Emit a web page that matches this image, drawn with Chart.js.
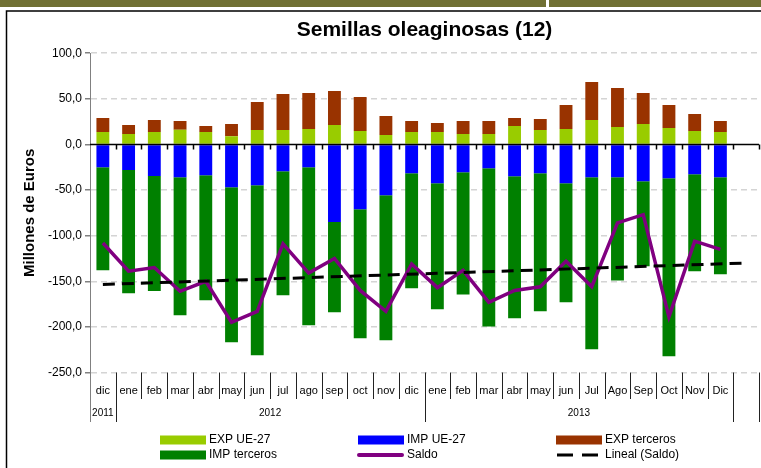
<!DOCTYPE html>
<html>
<head>
<meta charset="utf-8">
<script src="https://cdn.jsdelivr.net/npm/chart.js@4.4.1/dist/chart.umd.min.js"></script>
<style>
  html, body { margin: 0; padding: 0; background: #fff; }
  #wrap { position: relative; width: 761px; height: 468px; }
</style>
</head>
<body>
<div id="wrap"><canvas id="semillas"></canvas></div>
<script>
// meses (la ultima categoria queda vacia, como en la hoja original)
const months = ["dic", "ene", "feb", "mar", "abr", "may", "jun", "jul", "ago", "sep", "oct", "nov",
  "dic", "ene", "feb", "mar", "abr", "may", "jun", "Jul", "Ago", "Sep", "Oct", "Nov", "Dic", ""];
// año y numero de meses que abarca
const years = [["2011", 1], ["2012", 12], ["2013", 12], ["", 1]];

const expUE = [13.5, 11.3, 13.5, 16.0, 13.5, 9.1, 15.7, 15.7, 16.8, 21.2, 14.6, 10.2, 13.5,
  13.5, 11.3, 11.3, 20.1, 15.7, 16.8, 26.7, 19.0, 22.3, 17.9, 14.6, 13.5];
const impUE = [-25.0, -27.9, -34.5, -35.9, -33.7, -46.9, -44.7, -29.3, -25.0, -85.0, -71.1, -55.7, -31.5,
  -42.5, -30.4, -26.0, -34.8, -31.5, -42.5, -35.9, -35.9, -40.3, -37.0, -32.6, -35.9];
const expTerceros = [15.4, 9.9, 13.2, 9.6, 6.6, 13.2, 30.8, 39.6, 39.6, 37.4, 37.4, 20.9, 12.1,
  9.9, 14.3, 14.3, 8.8, 12.1, 26.4, 41.8, 42.9, 34.1, 25.3, 18.7, 12.1];
const impTerceros = [-112.8, -135.1, -126.3, -151.3, -137.1, -170.0, -186.5, -136.0, -173.2, -99.0, -141.4, -159.0, -126.1,
  -138.1, -134.1, -173.7, -155.7, -151.3, -130.5, -188.7, -113.2, -93.1, -195.3, -106.3, -106.3];
const saldo = [-108, -139, -135, -161, -150, -195, -183, -109, -141, -125, -160, -183, -131,
  -157, -138, -173, -160, -156, -128, -156, -86, -77, -189, -106, -115];
// tendencia lineal: valor en la primera y en la ultima categoria
const trendEnds = [-153.5, -130];

const trendData = months.map((_, i) =>
  i === 0 ? trendEnds[0] : i === months.length - 1 ? trendEnds[1] : null
);

Chart.defaults.font.family = "'Liberation Sans', Arial, sans-serif";
Chart.defaults.color = "#000";

const frame = {
  id: "frame",
  beforeDraw(chart) {
    const ctx = chart.ctx;
    ctx.save();
    ctx.fillStyle = "#fff";
    ctx.fillRect(0, 0, chart.width, chart.height);
    ctx.fillStyle = "#707034";
    ctx.fillRect(0, 0, chart.width, 7);
    ctx.fillStyle = "#fff";
    ctx.fillRect(546, 0, 3, 7);
    ctx.strokeStyle = "#000";
    ctx.lineWidth = 1.5;
    ctx.beginPath();
    ctx.moveTo(6.5, chart.height);
    ctx.lineTo(6.5, 11);
    ctx.lineTo(chart.width, 11);
    ctx.stroke();
    ctx.restore();
  },
};

const categoryAxis = {
  id: "categoryAxis",
  afterDatasetsDraw(chart) {
    const { ctx, chartArea, scales: { x, y } } = chart;
    const step = x.getPixelForValue(1) - x.getPixelForValue(0);
    const y0 = Math.round(y.getPixelForValue(0)) + 0.5;
    ctx.save();
    ctx.strokeStyle = "#000";
    ctx.lineWidth = 1.5;
    ctx.beginPath();
    ctx.moveTo(chartArea.left, y0);
    ctx.lineTo(chartArea.right, y0);
    for (let i = 0; i < months.length; i++) {
      const px = Math.round(x.getPixelForValue(i) + step / 2) + 0.5;
      ctx.moveTo(px, y0);
      ctx.lineTo(px, y0 + 5);
    }
    ctx.stroke();
    ctx.restore();
  },
  afterDraw(chart) {
    const { ctx, chartArea, scales: { x } } = chart;
    const step = x.getPixelForValue(1) - x.getPixelForValue(0);
    const top = chartArea.bottom;
    ctx.save();

    // eje vertical prolongado hasta el pie de la tabla
    ctx.strokeStyle = "#808080";
    ctx.lineWidth = 1;
    ctx.beginPath();
    ctx.moveTo(Math.round(chartArea.left) + 0.5, top);
    ctx.lineTo(Math.round(chartArea.left) + 0.5, 422);
    ctx.stroke();

    // separadores de meses y de años
    const yearEnds = [];
    let acc = 0;
    for (const [, n] of years) {
      acc += n;
      yearEnds.push(acc - 1);
    }
    ctx.strokeStyle = "#222";
    ctx.beginPath();
    for (let i = 0; i < months.length; i++) {
      const px = Math.round(x.getPixelForValue(i) + step / 2) + 0.5;
      ctx.moveTo(px, top);
      ctx.lineTo(px, yearEnds.includes(i) ? 422 : 399);
    }
    ctx.stroke();

    // etiquetas de año
    ctx.fillStyle = "#000";
    ctx.font = "10px 'Liberation Sans', Arial, sans-serif";
    ctx.textAlign = "center";
    ctx.textBaseline = "middle";
    let start = 0;
    for (const [label, n] of years) {
      const a = x.getPixelForValue(start) - step / 2;
      const b = x.getPixelForValue(start + n - 1) + step / 2;
      ctx.fillText(label, (a + b) / 2, 413);
      start += n;
    }

    // leyenda en tres columnas
    const cols = [160, 358, 556];
    const rows = [440, 455];
    ctx.font = "12px 'Liberation Sans', Arial, sans-serif";
    ctx.textAlign = "left";
    chart.data.datasets.forEach((ds, i) => {
      const lx = cols[i % 3];
      const ly = rows[Math.floor(i / 3)];
      if (ds.type === "line") {
        ctx.strokeStyle = ds.borderColor;
        ctx.lineWidth = ds.borderDash ? 3 : 4;
        ctx.lineCap = ds.borderDash ? "butt" : "round";
        ctx.setLineDash(ds.borderDash ? [16, 9] : []);
        ctx.beginPath();
        ctx.moveTo(lx + 1, ly);
        ctx.lineTo(lx + 44, ly);
        ctx.stroke();
        ctx.setLineDash([]);
      } else {
        ctx.fillStyle = ds.backgroundColor;
        ctx.fillRect(lx, ly - 4.5, 46, 9);
      }
      ctx.fillStyle = "#000";
      ctx.fillText(ds.label, lx + 49, ly);
    });
    ctx.restore();
  },
};

const bar = (label, data, color) => ({
  type: "bar",
  label,
  data,
  backgroundColor: color,
  stack: "flujos",
  order: 2,
  barPercentage: 0.5,
  categoryPercentage: 1.0,
});

new Chart(document.getElementById("semillas"), {
  data: {
    labels: months,
    datasets: [
      bar("EXP UE-27", expUE, "#99cc00"),
      bar("IMP UE-27", impUE, "#0000ff"),
      bar("EXP terceros", expTerceros, "#993300"),
      bar("IMP terceros", impTerceros, "#008000"),
      {
        type: "line",
        label: "Saldo",
        data: saldo,
        borderColor: "#800080",
        borderWidth: 3.5,
        pointRadius: 0,
        stack: "saldo",
        order: 1,
      },
      {
        type: "line",
        label: "Lineal (Saldo)",
        data: trendData,
        borderColor: "#000",
        borderWidth: 3,
        borderDash: [12, 7],
        pointRadius: 0,
        spanGaps: true,
        stack: "tendencia",
        order: 0,
      },
    ],
  },
  options: {
    responsive: true,
    maintainAspectRatio: false,
    animation: false,
    layout: { padding: { left: 0, right: 2, top: 0, bottom: 0 } },
    plugins: {
      legend: { display: false },
      tooltip: { enabled: false },
      title: {
        display: true,
        fullSize: false,
        text: "Semillas oleaginosas (12)",
        color: "#000",
        font: { size: 21, weight: "bold" },
        padding: { top: 18, bottom: 10 },
      },
    },
    scales: {
      x: {
        stacked: true,
        grid: { display: false, drawTicks: false },
        border: { display: false },
        ticks: {
          autoSkip: false,
          maxRotation: 0,
          padding: 12,
          color: "#000",
          font: { size: 11 },
        },
        afterFit(scale) {
          scale.height = 95.5;
        },
      },
      y: {
        stacked: true,
        min: -250,
        max: 100,
        ticks: {
          stepSize: 50,
          padding: 3,
          color: "#000",
          font: { size: 12 },
          callback: (v) => v.toFixed(1).replace(".", ","),
        },
        grid: {
          color: (c) => (c.tick && c.tick.value === 0 ? "rgba(0,0,0,0)" : "#d4d4d4"),
          lineWidth: 1.5,
          tickColor: "#808080",
          tickLength: 5,
        },
        border: { color: "#808080", width: 1, dash: [6, 4] },
        title: {
          display: true,
          text: "Millones de Euros",
          color: "#000",
          font: { size: 15, weight: "bold" },
          padding: { top: 21, bottom: 0 },
        },
        afterFit(scale) {
          scale.width = 90;
        },
      },
    },
  },
  plugins: [frame, categoryAxis],
});
</script>
</body>
</html>
